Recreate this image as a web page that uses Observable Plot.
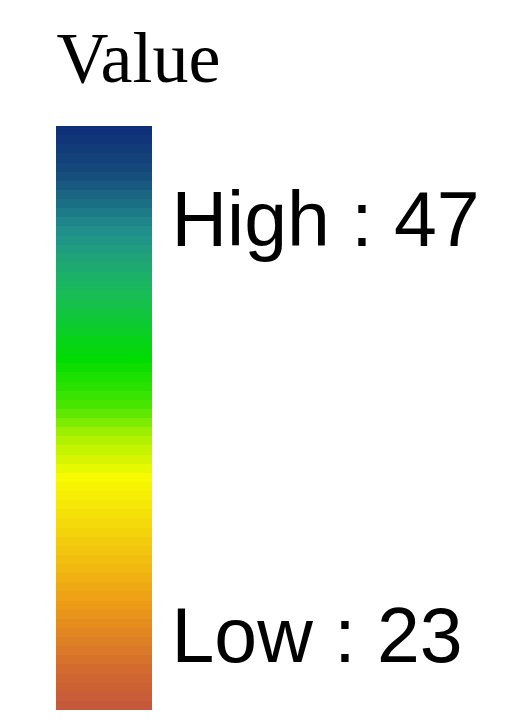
<!DOCTYPE html>
<html>
<head>
<meta charset="utf-8">
<script src="https://cdn.jsdelivr.net/npm/d3@7"></script>
<script src="https://cdn.jsdelivr.net/npm/@observablehq/plot@0.6"></script>
<style>
  html, body { margin: 0; padding: 0; background: #fff; }
  #chart svg { display: block; }
</style>
</head>
<body>
<div id="chart"></div>
<script>
// Legend data
const title = "Value";
const lowValue = 23;
const highValue = 47;
const labels = ["High : " + highValue, "Low : " + lowValue];
// Colour ramp stops (fraction from low to high) and colours
const stopPositions = [0, 0.06, 0.19, 0.3, 0.4, 0.47, 0.52, 0.6, 0.72, 0.82, 0.92, 1];
const stopColors = ["#c4573c", "#d0662f", "#eea015", "#f3d20c", "#f7fb00", "#a8f000", "#4ae600", "#00dc00", "#1bba5d", "#21908d", "#154b7b", "#0e2c78"];
const bandCount = 64;

// Stepped bands spanning the legend's value range
const step = (highValue - lowValue) / bandCount;
const bands = d3.range(bandCount).map(i => ({
  lo: lowValue + i * step,
  hi: lowValue + (i + 1) * step,
  v: lowValue + (i + 0.5) * step
}));

const chart = Plot.plot({
  width: 524,
  height: 720,
  marginTop: 126,
  marginBottom: 10,
  marginLeft: 56,
  marginRight: 372,
  x: {domain: [0, 1], axis: null},
  y: {domain: [lowValue, highValue], axis: null},
  color: {
    type: "linear",
    domain: stopPositions.map(p => lowValue + p * (highValue - lowValue)),
    range: stopColors,
    interpolate: "rgb"
  },
  style: {background: "#fff", overflow: "visible"},
  marks: [
    Plot.rect(bands, {x1: 0, x2: 1, y1: "lo", y2: "hi", fill: "v", inset: 0, shapeRendering: "crispEdges"}),
    Plot.text([title], {
      frameAnchor: "top-left", dx: 0, dy: -45, textAnchor: "start", lineAnchor: "bottom",
      fontFamily: "Liberation Serif, serif", fontSize: 72, fill: "#000"
    }),
    Plot.text([labels[0]], {
      frameAnchor: "top-right", dx: 19, dy: 119, textAnchor: "start", lineAnchor: "bottom",
      fontFamily: "Liberation Sans, Arial, sans-serif", fontSize: 77, fill: "#000"
    }),
    Plot.text([labels[1]], {
      frameAnchor: "bottom-right", dx: 19, dy: -49, textAnchor: "start", lineAnchor: "bottom",
      fontFamily: "Liberation Sans, Arial, sans-serif", fontSize: 77, fill: "#000"
    })
  ]
});
document.getElementById("chart").appendChild(chart);
</script>
</body>
</html>
